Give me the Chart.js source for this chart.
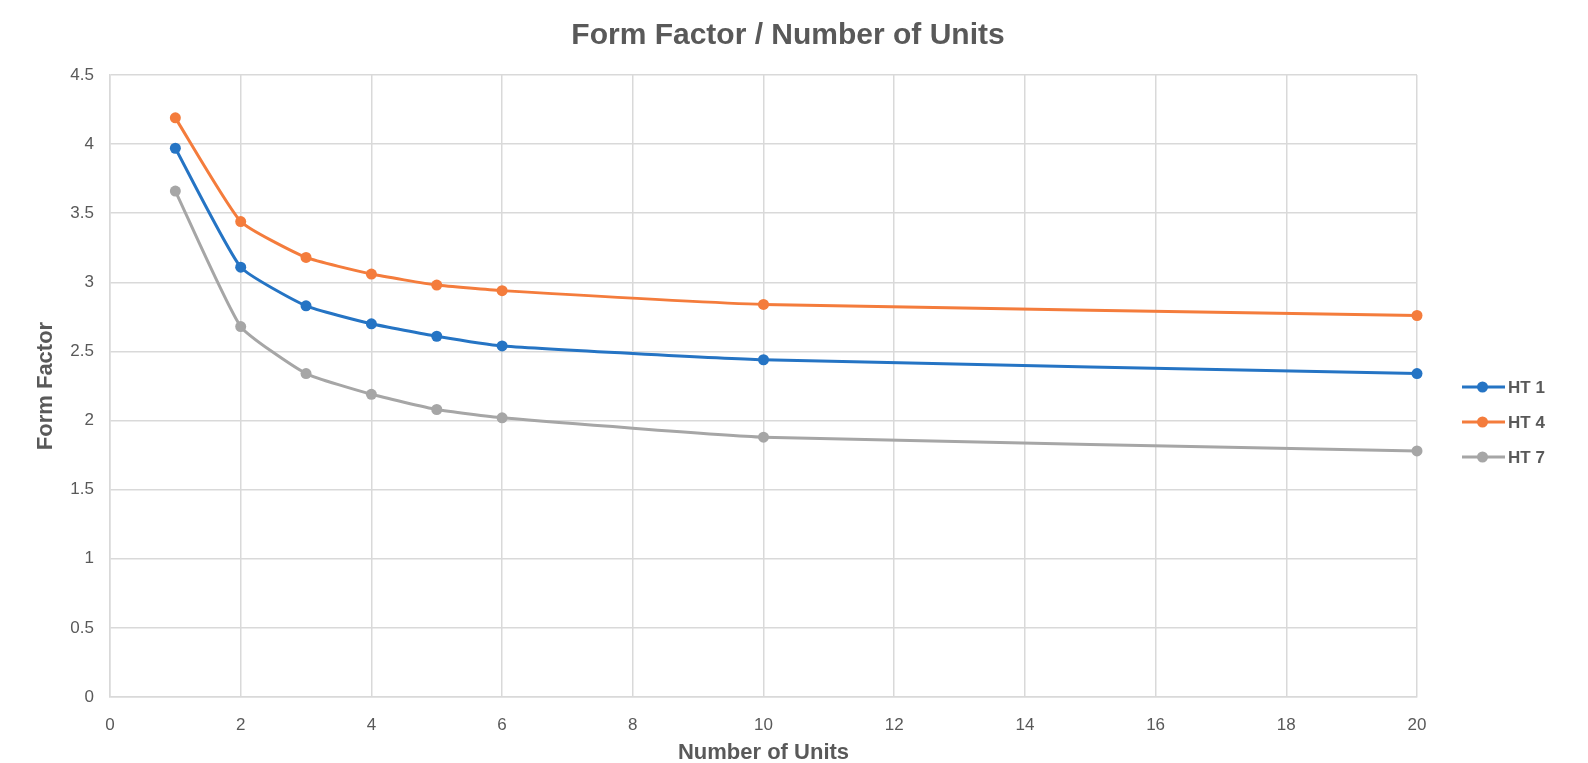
<!DOCTYPE html>
<html>
<head>
<meta charset="utf-8">
<title>Form Factor / Number of Units</title>
<script src="https://cdn.jsdelivr.net/npm/chart.js@4.4.1/dist/chart.umd.min.js"></script>
<style>
  html, body { margin: 0; padding: 0; background: #ffffff; }
  #wrap { width: 1588px; height: 763px; }
</style>
</head>
<body>
<div id="wrap"><canvas id="chart" width="1588" height="763"></canvas></div>
<script>
// Number of units on the x axis
const units = [1, 2, 3, 4, 5, 6, 10, 20];

// Form factor per house type
const ht1 = [3.97, 3.11, 2.83, 2.70, 2.61, 2.54, 2.44, 2.34];
const ht4 = [4.19, 3.44, 3.18, 3.06, 2.98, 2.94, 2.84, 2.76];
const ht7 = [3.66, 2.68, 2.34, 2.19, 2.08, 2.02, 1.88, 1.78];

const seriesNames = ['HT 1', 'HT 4', 'HT 7'];
const seriesColors = ['#2574c4', '#f47c3c', '#a6a6a6'];

// Axis tick values
const xTicks = [0, 2, 4, 6, 8, 10, 12, 14, 16, 18, 20];
const yTicks = [0, 0.5, 1, 1.5, 2, 2.5, 3, 3.5, 4, 4.5];

const TEXT = '#595959';
const GRID = '#d9d9d9';
Chart.defaults.font.family = '"Liberation Sans", Arial, Helvetica, sans-serif';

function points(values) {
  return units.map((u, i) => ({ x: u, y: values[i] }));
}

const datasets = [ht1, ht4, ht7].map((vals, i) => ({
  label: seriesNames[i],
  data: points(vals),
  borderColor: seriesColors[i],
  backgroundColor: seriesColors[i],
  pointBackgroundColor: seriesColors[i],
  pointBorderWidth: 0,
  pointRadius: 5.5,
  borderWidth: 3,
  tension: 0.15,
  clip: false
}));

// Legend at the right: short line with a dot, then the series name
const sideLegend = {
  id: 'sideLegend',
  afterDraw(chart) {
    const { ctx, chartArea } = chart;
    const x0 = chartArea.right + 45;
    const lineLen = 43;
    const gap = 35;
    const mid = (chartArea.top + chartArea.bottom) / 2 + 36;
    ctx.save();
    chart.data.datasets.forEach((ds, i) => {
      const y = mid + (i - 1) * gap;
      ctx.strokeStyle = ds.borderColor;
      ctx.lineWidth = 3;
      ctx.beginPath();
      ctx.moveTo(x0, y);
      ctx.lineTo(x0 + lineLen, y);
      ctx.stroke();
      ctx.fillStyle = ds.borderColor;
      ctx.beginPath();
      ctx.arc(x0 + 20.5, y, 5.5, 0, Math.PI * 2);
      ctx.fill();
      ctx.fillStyle = TEXT;
      ctx.font = 'bold 17px "Liberation Sans", Arial, sans-serif';
      ctx.textBaseline = 'middle';
      ctx.textAlign = 'left';
      ctx.fillText(ds.label, x0 + lineLen + 3, y + 1);
    });
    ctx.restore();
  }
};

new Chart(document.getElementById('chart'), {
  type: 'line',
  data: { datasets },
  plugins: [sideLegend],
  options: {
    responsive: false,
    animation: false,
    devicePixelRatio: 1,
    layout: { padding: { left: 0, right: 12, top: 0, bottom: 0 } },
    plugins: {
      legend: { display: false },
      tooltip: { enabled: false },
      title: {
        display: true,
        text: 'Form Factor / Number of Units',
        color: TEXT,
        font: { size: 30, weight: 'bold' },
        padding: { top: 18, bottom: 21 }
      }
    },
    scales: {
      x: {
        type: 'linear',
        min: xTicks[0],
        max: xTicks[xTicks.length - 1],
        afterBuildTicks: (s) => { s.ticks = xTicks.map(v => ({ value: v })); },
        afterFit: (s) => { s.height = 66; },
        ticks: { color: TEXT, font: { size: 17 }, padding: 18 },
        grid: { color: GRID, lineWidth: 1.5, drawTicks: false },
        border: { color: GRID, width: 1.5 },
        title: {
          display: true,
          text: 'Number of Units',
          color: TEXT,
          font: { size: 22, weight: 'bold' },
          padding: { top: 0, bottom: -3 }
        }
      },
      y: {
        type: 'linear',
        min: yTicks[0],
        max: yTicks[yTicks.length - 1],
        afterBuildTicks: (s) => { s.ticks = yTicks.map(v => ({ value: v })); },
        afterFit: (s) => { s.width = 110; },
        ticks: { color: TEXT, font: { size: 17 }, padding: 16, callback: (v) => String(v) },
        grid: { color: GRID, lineWidth: 1.5, drawTicks: false },
        border: { color: GRID, width: 1.5 },
        title: {
          display: true,
          text: 'Form Factor',
          color: TEXT,
          font: { size: 22, weight: 'bold' },
          padding: { top: 33, bottom: 0 }
        }
      },
      // blank right-hand band that holds the legend
      legendBand: {
        type: 'linear',
        position: 'right',
        display: true,
        afterFit: (s) => { s.width = 159; },
        ticks: { display: false },
        grid: { display: false, drawOnChartArea: false },
        border: { display: false }
      }
    }
  }
});
</script>
</body>
</html>
